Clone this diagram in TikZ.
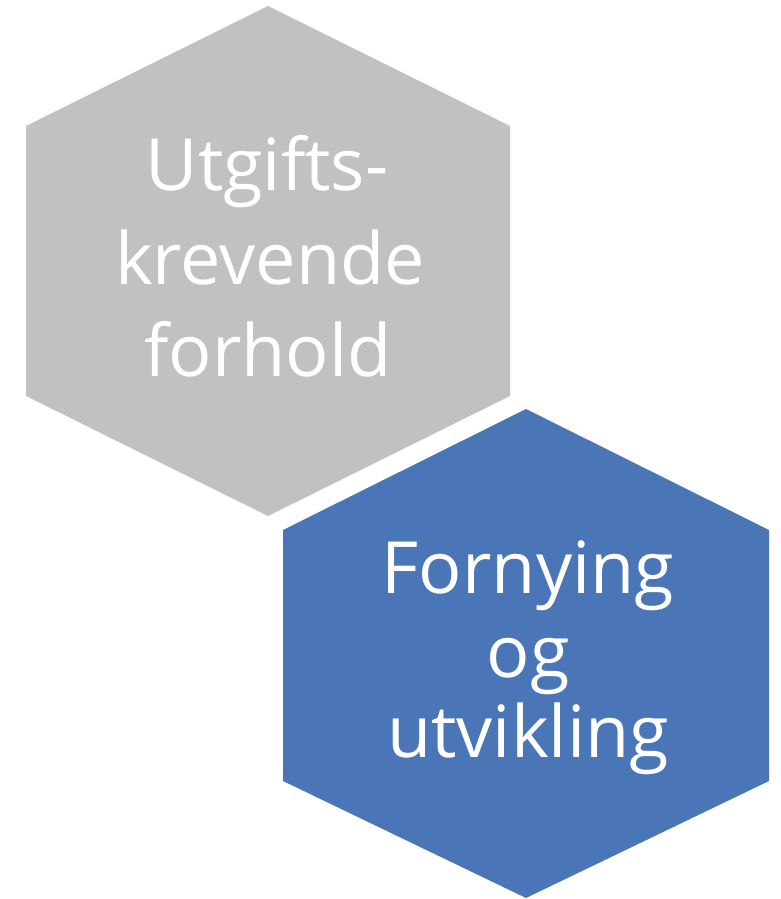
\documentclass[tikz,border=0pt]{standalone}
\usepackage{fontspec}
\setmainfont{Open Sans}
\definecolor{hexgray}{HTML}{C0C1C0}
\definecolor{hexblue}{HTML}{4A76B8}
\begin{document}
\begin{tikzpicture}[x=1pt,y=-1pt,
  hextext/.style={text=white,font=\fontsize{72}{84}\selectfont,inner sep=0pt,anchor=base}]
\useasboundingbox (0,0) rectangle (780,899);
% gray hexagon
\fill[hexgray] (268,6) -- (510,126) -- (510,396) -- (268,516) -- (26,396) -- (26,126) -- cycle;
% blue hexagon
\fill[hexblue] (526,409) -- (769,530) -- (769,781) -- (526,898) -- (283,781) -- (283,530) -- cycle;
% gray text
\node[hextext] (g1) at (267,190) {Utgifts-};
\node[hextext] (g2) at (270,284) {krevende};
\node[hextext] (g3) at (268,376) {forhold};
% blue text
\node[hextext] (b1) at (528,593) {Fornying};
\node[hextext] (b2) at (528,677) {og};
\node[hextext] (b3) at (528,757) {utvikling};
\end{tikzpicture}
\end{document}
